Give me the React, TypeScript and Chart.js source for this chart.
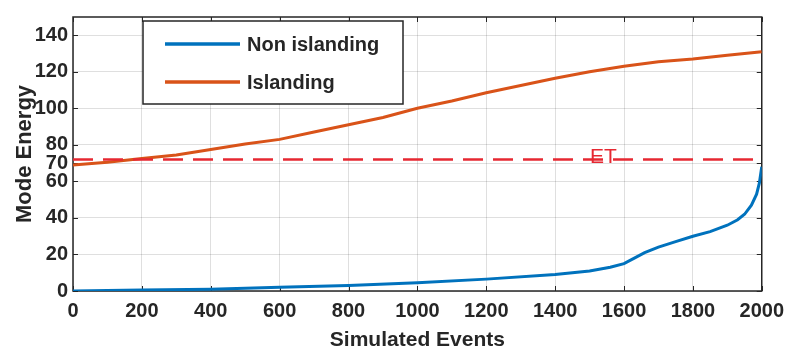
import { useEffect, useRef } from "react";
import { Chart, registerables } from "chart.js";

Chart.register(...registerables);

// ---- data ----
const seriesLabels = ["Non islanding", "Islanding"];
const xAxisTitle = "Simulated Events";
const yAxisTitle = "Mode Energy";
const yTickValues = [0, 20, 40, 60, 70, 80, 100, 120, 140];

const nonIslandingX = [0, 200, 400, 600, 800, 1000, 1200, 1400, 1500, 1560, 1600, 1630, 1660, 1700, 1750, 1800, 1850, 1900, 1930, 1950, 1970, 1985, 1993, 2000];
const nonIslandingY = [0, 0.5, 1, 2, 3, 4.5, 6.5, 9, 11, 13, 15, 18, 21, 24, 27, 30, 32.5, 36, 39, 42, 47, 53, 59, 68];

const islandingX = [0, 100, 200, 300, 400, 500, 600, 700, 800, 900, 1000, 1100, 1200, 1300, 1400, 1500, 1600, 1700, 1800, 1900, 2000];
const islandingY = [69, 70.5, 72.5, 74.5, 77.5, 80.5, 83, 87, 91, 95, 100, 104, 108.5, 112.5, 116.5, 120, 123, 125.5, 127, 129, 131];

const etLabel = "ET";
const etLevel = 72;
const etLabelX = 1540;
const xRange = [0, 2000];
const yRange = [0, 150];

const BLUE = "#0072BD";
const ORANGE = "#D95319";
const RED = "rgb(230,40,50)";
const AXIS = "#262626";

const boxPlugin = {
  id: "matlabBox",
  beforeDraw(chart: any) {
    const { ctx, width, height } = chart;
    ctx.save();
    ctx.fillStyle = "#ffffff";
    ctx.fillRect(0, 0, width, height);
    ctx.restore();
  },
  beforeDatasetsDraw(chart: any) {
    const { ctx, chartArea } = chart;
    const { left, right, top, bottom } = chartArea;
    const xs = chart.scales.x;
    const ys = chart.scales.y;
    ctx.save();
    ctx.strokeStyle = AXIS;
    ctx.lineWidth = 1.5;
    ctx.strokeRect(left, top, right - left, bottom - top);
    ctx.lineWidth = 1;
    const tl = 5;
    ctx.beginPath();
    xs.ticks.forEach((t: any) => {
      const px = Math.round(xs.getPixelForValue(t.value)) + 0.5;
      ctx.moveTo(px, bottom);
      ctx.lineTo(px, bottom - tl);
      ctx.moveTo(px, top);
      ctx.lineTo(px, top + tl);
    });
    ys.ticks.forEach((t: any) => {
      const py = Math.round(ys.getPixelForValue(t.value)) + 0.5;
      ctx.moveTo(left, py);
      ctx.lineTo(left + tl, py);
      ctx.moveTo(right, py);
      ctx.lineTo(right - tl, py);
    });
    ctx.stroke();
    ctx.restore();
  },
  afterDatasetsDraw(chart: any) {
    const { ctx } = chart;
    const xs = chart.scales.x;
    const ys = chart.scales.y;
    ctx.save();
    ctx.fillStyle = RED;
    ctx.font = "21px 'Liberation Sans'";
    ctx.textAlign = "center";
    ctx.textBaseline = "middle";
    ctx.fillText(etLabel, xs.getPixelForValue(etLabelX), ys.getPixelForValue(etLevel) - 2);
    ctx.restore();
  },
  afterDraw(chart: any) {
    const { ctx, chartArea } = chart;
    const bx = chartArea.left + 70;
    const by = chartArea.top + 4;
    const bw = 260;
    const bh = 83;
    ctx.save();
    ctx.fillStyle = "#ffffff";
    ctx.fillRect(bx, by, bw, bh);
    ctx.strokeStyle = AXIS;
    ctx.lineWidth = 1.5;
    ctx.strokeRect(bx, by, bw, bh);
    const rows = [
      { label: seriesLabels[0], color: BLUE, y: by + 23 },
      { label: seriesLabels[1], color: ORANGE, y: by + 61 },
    ];
    ctx.font = "bold 20px 'Liberation Sans'";
    ctx.textBaseline = "middle";
    ctx.textAlign = "left";
    rows.forEach((r) => {
      ctx.strokeStyle = r.color;
      ctx.lineWidth = 3.5;
      ctx.beginPath();
      ctx.moveTo(bx + 22, r.y);
      ctx.lineTo(bx + 97, r.y);
      ctx.stroke();
      ctx.fillStyle = AXIS;
      ctx.fillText(r.label, bx + 104, r.y + 1);
    });
    ctx.restore();
  },
};

export default function App() {
  const ref = useRef<HTMLCanvasElement | null>(null);

  useEffect(() => {
    if (!ref.current) return;
    const tickFont = { family: "'Liberation Sans'", size: 20, weight: "bold" as const };
    const chart = new Chart(ref.current, {
      type: "line",
      data: {
        datasets: [
          {
            label: seriesLabels[0],
            data: nonIslandingX.map((x, i) => ({ x, y: nonIslandingY[i] })),
            borderColor: BLUE,
            borderWidth: 3,
            pointRadius: 0,
            tension: 0,
            order: 2,
          },
          {
            label: seriesLabels[1],
            data: islandingX.map((x, i) => ({ x, y: islandingY[i] })),
            borderColor: ORANGE,
            borderWidth: 3,
            pointRadius: 0,
            tension: 0,
            order: 1,
          },
          {
            label: etLabel,
            data: [
              { x: xRange[0], y: etLevel },
              { x: xRange[1], y: etLevel },
            ],
            borderColor: RED,
            borderWidth: 2.5,
            borderDash: [20, 10],
            pointRadius: 0,
            order: 0,
          },
        ],
      },
      options: {
        responsive: false,
        animation: false,
        layout: { padding: { left: 0, right: 28, top: 11, bottom: 0 } },
        plugins: {
          legend: { display: false },
          tooltip: { enabled: false },
        },
        scales: {
          x: {
            type: "linear",
            min: xRange[0],
            max: xRange[1],
            grid: { color: "rgba(38,38,38,0.15)", drawTicks: false },
            border: { display: false },
            ticks: {
              stepSize: 200,
              padding: 8,
              maxRotation: 0,
              autoSkip: false,
              color: AXIS,
              font: tickFont,
              callback: (v: any) => String(v),
            },
            title: {
              display: true,
              text: xAxisTitle,
              color: AXIS,
              font: { family: "'Liberation Sans'", size: 21, weight: "bold" },
              padding: { top: 0, bottom: 1 },
            },
            afterFit: (s: any) => {
              s.height = 63;
            },
          },
          y: {
            type: "linear",
            min: yRange[0],
            max: yRange[1],
            grid: { color: "rgba(38,38,38,0.15)", drawTicks: false },
            border: { display: false },
            afterBuildTicks: (s: any) => {
              s.ticks = yTickValues.map((v) => ({ value: v }));
            },
            ticks: {
              padding: 5,
              autoSkip: false,
              color: AXIS,
              font: tickFont,
              callback: (v: any) => String(v),
            },
            title: {
              display: true,
              text: yAxisTitle,
              color: AXIS,
              font: { family: "'Liberation Sans'", size: 22, weight: "bold" },
              padding: { top: 12, bottom: 0 },
            },
            afterFit: (s: any) => {
              s.width = 73;
            },
          },
        },
      },
      plugins: [boxPlugin],
    });
    return () => chart.destroy();
  }, []);

  return (
    <div style={{ position: "fixed", left: 0, top: 0, width: 792, height: 354, background: "#fff" }}>
      <canvas ref={ref} width={792} height={354} style={{ width: 792, height: 354, display: "block" }} />
    </div>
  );
}
